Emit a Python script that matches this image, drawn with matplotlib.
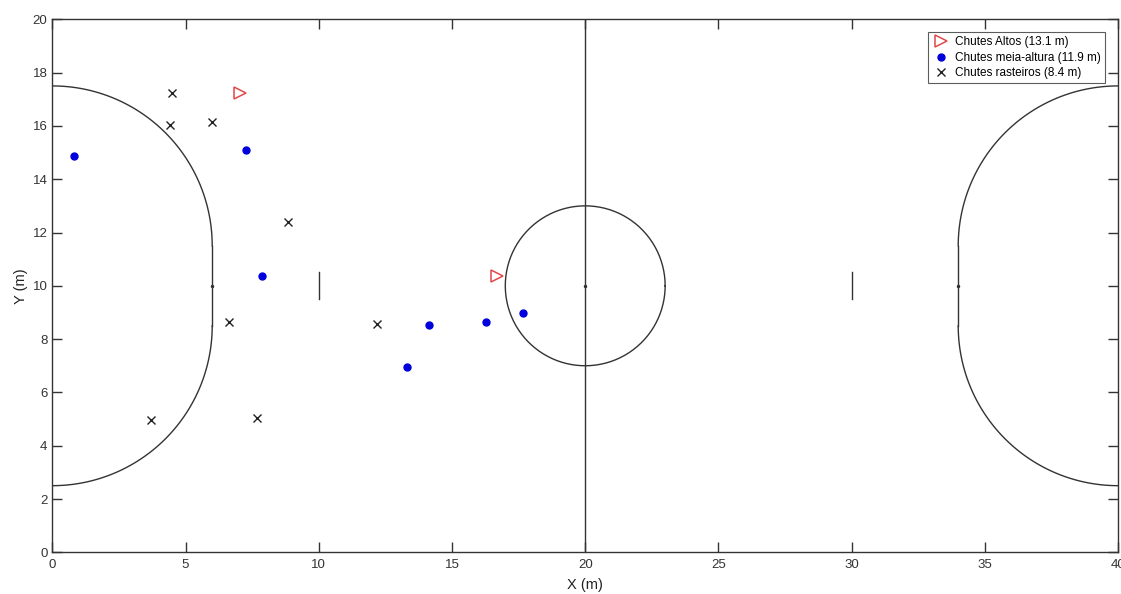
import numpy as np
import matplotlib
matplotlib.use('Agg')
import matplotlib.pyplot as plt

plt.rcParams['font.family'] = ['Liberation Sans', 'DejaVu Sans']

# chutes altos (red open triangles)
altos_x = [7.05, 16.70]
altos_y = [17.22, 10.38]
# chutes meia-altura (blue dots)
meia_x = [0.80, 7.25, 7.87, 13.32, 14.15, 16.28, 17.65]
meia_y = [14.88, 15.08, 10.38, 6.97, 8.54, 8.63, 8.98]
# chutes rasteiros (black crosses)
rast_x = [4.50, 4.43, 6.00, 8.83, 6.63, 12.17, 3.70, 7.68]
rast_y = [17.24, 16.03, 16.13, 12.38, 8.63, 8.55, 4.96, 5.04]

legend_labels = ['Chutes Altos (13.1 m)', 'Chutes meia-altura (11.9 m)', 'Chutes rasteiros (8.4 m)']

field_len, field_w = 40, 20
area_r = 6
post_y = [8.5, 11.5]
line_c = '#333333'

fig = plt.figure(figsize=(11.21, 5.94), dpi=100)
ax = fig.add_axes([0.0467, 0.0702, 0.9507, 0.8973])

# field lines
ax.plot([20, 20], [0, field_w], color=line_c, lw=1)
t = np.linspace(0, 2 * np.pi, 300)
ax.plot(20 + 3 * np.cos(t), 10 + 3 * np.sin(t), color=line_c, lw=1)

# penalty areas
ta = np.linspace(0, np.pi / 2, 100)
tb = np.linspace(-np.pi / 2, 0, 100)
ax.plot(area_r * np.cos(ta), post_y[1] + area_r * np.sin(ta), color=line_c, lw=1)
ax.plot(area_r * np.cos(tb), post_y[0] + area_r * np.sin(tb), color=line_c, lw=1)
ax.plot([area_r, area_r], post_y, color=line_c, lw=1)
ax.plot(field_len - area_r * np.cos(ta), post_y[1] + area_r * np.sin(ta), color=line_c, lw=1)
ax.plot(field_len - area_r * np.cos(tb), post_y[0] + area_r * np.sin(tb), color=line_c, lw=1)
ax.plot([field_len - area_r] * 2, post_y, color=line_c, lw=1)

# marks
ax.plot([6, 20, 34], [10, 10, 10], 'o', color=line_c, ms=1.5)
ax.plot([10, 10], [9.5, 10.5], color=line_c, lw=1)
ax.plot([30, 30], [9.5, 10.5], color=line_c, lw=1)

# shots
ax.plot(altos_x, altos_y, '>', mfc='none', mec='#e04848', ms=9, mew=1.1, ls='none', label=legend_labels[0])
ax.plot(meia_x, meia_y, 'o', color='#0000dd', ms=5, ls='none', label=legend_labels[1])
ax.plot(rast_x, rast_y, 'x', color='#222222', ms=6, mew=1, ls='none', label=legend_labels[2])

ax.set_xlim(0, field_len)
ax.set_ylim(0, field_w)
ax.set_xticks(range(0, 41, 5))
ax.set_yticks(range(0, 21, 2))
ax.tick_params(direction='in', length=7.5, top=True, right=True, labelsize=9.5,
               colors='#333333', width=1)
ax.tick_params(axis='x', pad=5)
for s in ax.spines.values():
    s.set_color('#333333')
    s.set_linewidth(1)
ax.set_xlabel('X (m)', fontsize=10.5, color='#222222', labelpad=5)
ax.set_ylabel('Y (m)', fontsize=10.5, color='#222222', labelpad=3)

leg = ax.legend(loc='upper right', fontsize=8.5, frameon=True, fancybox=False,
                edgecolor='#333333', borderpad=0.35, handletextpad=0.4,
                labelspacing=0.3, handlelength=1.6, borderaxespad=0,
                bbox_to_anchor=(0.988, 0.976))
leg.get_frame().set_linewidth(0.8)

fig.savefig('out.png', dpi=100)
